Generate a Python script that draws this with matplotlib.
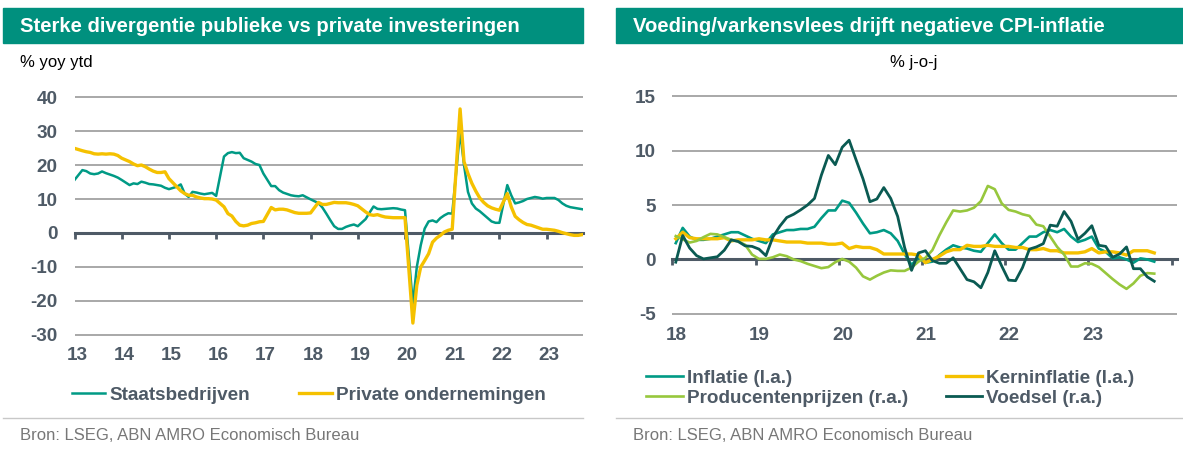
import matplotlib.pyplot as plt
import matplotlib.transforms as mtransforms
from matplotlib.patches import Rectangle
from matplotlib.lines import Line2D

plt.rcParams['font.family'] = ['Liberation Sans', 'DejaVu Sans']
plt.rcParams['axes.unicode_minus'] = False

# ---- left chart: fixed asset investment, % yoy ytd (Jan is missing, Jan-Feb combined)
left_periods = [(2012, 12)] + [(y, m) for y in range(2013, 2023) for m in range(2, 13)] \
    + [(2023, m) for m in range(2, 10)]

staatsbedrijven = [
    15.6,
    18.5, 18.2, 17.5, 17.3, 17.5, 18.1, 17.6, 17.2, 16.8, 16.3, 15.6,   # 2013
    14.1, 14.6, 14.4, 15.1, 14.8, 14.4, 14.3, 14.1, 13.9, 13.3, 12.9,   # 2014
    13.6, 14.3, 11.6, 10.6, 12.1, 11.9, 11.6, 11.4, 11.6, 11.8, 10.9,   # 2015
    22.5, 23.5, 23.8, 23.5, 23.6, 22.0, 21.5, 21.0, 20.3, 20.0, 17.5,   # 2016
    13.8, 13.8, 12.6, 11.9, 11.5, 11.1, 10.9, 10.8, 11.1, 10.5, 9.9,    # 2017
    8.8, 7.5, 5.7, 3.8, 2.0, 1.2, 1.2, 1.8, 2.2, 2.5, 2.0,              # 2018
    4.1, 6.0, 7.8, 7.1, 7.0, 7.1, 7.2, 7.3, 7.2, 6.9, 6.7,              # 2019
    -21.0, -10.0, -3.6, 1.3, 3.4, 3.7, 3.2, 4.4, 5.2, 5.8, 5.7,         # 2020
    29.9, 20.0, 12.1, 8.7, 7.2, 6.4, 5.4, 4.4, 3.4, 3.0, 3.0,           # 2021
    14.1, 11.1, 8.7, 9.0, 9.4, 10.0, 10.3, 10.6, 10.4, 10.1, 10.3,      # 2022
    10.3, 9.7, 8.7, 8.0, 7.6, 7.4, 7.2, 7.0,                            # 2023
]
private_ondernemingen = [
    24.9,
    24.2, 23.9, 23.7, 23.3, 23.2, 23.3, 23.2, 23.3, 23.2, 22.8, 22.0,   # 2013
    21.0, 20.3, 19.8, 20.0, 19.5, 18.8, 18.2, 17.8, 17.8, 18.0, 16.0,   # 2014
    13.6, 12.4, 11.6, 11.1, 11.1, 10.6, 10.3, 10.1, 10.1, 10.0, 9.7,    # 2015
    7.7, 5.7, 5.0, 3.4, 2.3, 2.1, 2.3, 2.8, 3.0, 3.3, 3.4,              # 2016
    7.5, 6.8, 7.0, 7.0, 6.8, 6.4, 6.0, 5.8, 5.8, 5.8, 5.9,              # 2017
    9.0, 8.4, 8.4, 8.7, 9.0, 8.9, 8.9, 8.9, 8.7, 8.4, 8.0,              # 2018
    6.2, 5.4, 5.2, 5.4, 5.0, 4.7, 4.6, 4.5, 4.5, 4.5, 4.5,              # 2019
    -26.5, -15.4, -10.0, -8.1, -6.1, -2.7, -1.5, -0.7, 0.3, 0.8, 1.1,   # 2020
    36.5, 21.0, 17.5, 14.6, 12.3, 10.3, 9.0, 8.0, 7.4, 7.0, 6.7,        # 2021
    11.6, 7.7, 4.9, 3.9, 3.1, 2.5, 2.3, 1.9, 1.5, 1.1, 1.1,             # 2022
    0.8, 0.5, 0.1, -0.2, -0.5, -0.7, -0.7, -0.5,                        # 2023
]
left_years = list(range(2013, 2024))

# ---- right chart: CPI, % j-o-j, Jan 2018 - Oct 2023
right_periods = [(y, m) for y in range(2018, 2024) for m in range(1, 13)][:70]

inflatie = [
    1.5, 2.9, 2.1, 1.8, 1.8, 1.9, 2.1, 2.3, 2.5, 2.5, 2.2, 1.9,
    1.7, 1.5, 2.3, 2.5, 2.7, 2.7, 2.8, 2.8, 3.0, 3.8, 4.5, 4.5,
    5.4, 5.2, 4.3, 3.3, 2.4, 2.5, 2.7, 2.4, 1.7, 0.5, -0.5, 0.2,
    -0.3, -0.2, 0.4, 0.9, 1.3, 1.1, 1.0, 0.8, 0.7, 1.5, 2.3, 1.5,
    0.9, 0.9, 1.5, 2.1, 2.1, 2.5, 2.7, 2.5, 2.8, 2.1, 1.6, 1.8,
    2.1, 1.0, 0.7, 0.1, 0.2, 0.0, -0.3, 0.1, 0.0, -0.2,
]
kerninflatie = [
    1.9, 2.5, 2.0, 1.9, 1.9, 1.9, 1.9, 2.0, 1.7, 1.8, 1.8, 1.8,
    1.9, 1.8, 1.8, 1.7, 1.6, 1.6, 1.6, 1.5, 1.5, 1.5, 1.4, 1.4,
    1.5, 1.0, 1.2, 1.1, 1.1, 0.9, 0.5, 0.5, 0.5, 0.5, 0.5, 0.4,
    -0.3, 0.0, 0.3, 0.7, 0.9, 0.9, 1.3, 1.2, 1.2, 1.3, 1.2, 1.2,
    1.2, 1.1, 1.1, 0.9, 0.9, 1.0, 0.8, 0.8, 0.6, 0.6, 0.6, 0.7,
    1.0, 0.6, 0.7, 0.7, 0.6, 0.4, 0.8, 0.8, 0.8, 0.6,
]
producentenprijzen = [
    4.3, 3.7, 3.1, 3.4, 4.1, 4.7, 4.6, 4.1, 3.6, 3.3, 2.7, 0.9,
    0.1, 0.1, 0.4, 0.9, 0.6, 0.0, -0.3, -0.8, -1.2, -1.6, -1.4, -0.5,
    0.1, -0.4, -1.5, -3.1, -3.7, -3.0, -2.4, -2.0, -2.1, -2.1, -1.5, -0.4,
    0.3, 1.7, 4.4, 6.8, 9.0, 8.8, 9.0, 9.5, 10.7, 13.5, 12.9, 10.3,
    9.1, 8.8, 8.3, 8.0, 6.4, 6.1, 4.2, 2.3, 0.9, -1.3, -1.3, -0.7,
    -0.8, -1.4, -2.5, -3.6, -4.6, -5.4, -4.4, -3.0, -2.5, -2.6,
]
voedsel = [
    -0.5, 4.4, 2.1, 0.7, 0.1, 0.3, 0.5, 1.7, 3.6, 3.3, 2.5, 2.4,
    1.9, 0.7, 4.1, 6.1, 7.7, 8.3, 9.1, 10.0, 11.2, 15.5, 19.1, 17.4,
    20.6, 21.9, 18.3, 14.8, 10.6, 11.1, 13.2, 11.2, 7.9, 2.2, -2.0, 1.2,
    1.6, -0.2, -0.7, -0.7, 0.3, -1.7, -3.7, -4.1, -5.2, -2.4, 1.6, -1.2,
    -3.8, -3.9, -1.5, 1.9, 2.3, 2.9, 6.3, 6.1, 8.8, 7.0, 3.7, 4.8,
    6.2, 2.6, 2.4, 0.4, 1.0, 2.3, -1.7, -1.7, -3.2, -4.0,
]
right_years = list(range(2018, 2025))

# colours
HEADER = '#00907E'
TEAL = '#009A85'
YELLOW = '#F5C100'
LIGHTGREEN = '#97C73D'
DARKGREEN = '#0A5A52'
SLATE = '#4E5A66'
GRID = '#9A9A9A'

W, H = 1183, 454
fig = plt.figure(figsize=(W / 100, H / 100), dpi=100)


def fx(px):
    return px / W


def fy(py):
    return 1 - py / H


def panel_axes(x0, x1, y_top, y_bot):
    return fig.add_axes([fx(x0), fy(y_bot), (x1 - x0) / W, (y_bot - y_top) / H])


def style_axes(ax, yticks, years, xlab_offset):
    for s in ['top', 'left', 'right']:
        ax.spines[s].set_visible(False)
    ax.spines['bottom'].set_position(('data', 0))
    ax.spines['bottom'].set_color(SLATE)
    ax.spines['bottom'].set_linewidth(2.2)
    ax.spines['bottom'].set_zorder(2.6)
    ax.set_xticks(years)
    ax.tick_params(axis='x', direction='out', length=4, width=2, color=SLATE, labelbottom=False)
    ax.set_yticks(yticks)
    ax.tick_params(axis='y', length=0, pad=12, labelsize=13.6, labelcolor=SLATE)
    for t in ax.get_yticklabels():
        t.set_fontweight('bold')
    ax.grid(axis='y', color=GRID, lw=1.2)
    ax.set_axisbelow(True)
    trans = mtransforms.blended_transform_factory(ax.transData, ax.transAxes)
    for yr in years:
        if yr < years[-1] or len(years) == 11:
            ax.text(yr + 0.05, xlab_offset, f'{yr % 100}', transform=trans, ha='center',
                    va='center', fontsize=13.6, fontweight='bold', color=SLATE)


# ---- left panel
ax1 = panel_axes(74.5, 583, 96, 336)
xl = [y + m / 12 for y, m in left_periods]
ax1.plot(xl, staatsbedrijven, color=TEAL, lw=1.8, label='Staatsbedrijven', zorder=3)
ax1.plot(xl, private_ondernemingen, color=YELLOW, lw=2.4, label='Private ondernemingen', zorder=3)
ax1.set_xlim(2013.0, 2023.77)
ax1.set_ylim(-30.3, 40.3)
style_axes(ax1, range(-30, 41, 10), left_years, -19 / 240)

fig.legend(*ax1.get_legend_handles_labels(), loc='center', bbox_to_anchor=(fx(309), fy(395)),
           ncol=2, frameon=False, prop={'weight': 'bold', 'size': 13.6}, labelcolor=SLATE,
           handlelength=1.75, handletextpad=0.2, columnspacing=2.6, borderpad=0, borderaxespad=0)

# ---- right panel
ax2 = panel_axes(672.3, 1177, 95, 315)
ax2r = ax2.twinx()
xr = [y + (m - 0.5) / 12 for y, m in right_periods]
l1, = ax2.plot(xr, inflatie, color=TEAL, lw=1.9, label='Inflatie (l.a.)', zorder=3)
l2, = ax2.plot(xr, kerninflatie, color=YELLOW, lw=2.4, label='Kerninflatie (l.a.)', zorder=3)
l3, = ax2r.plot(xr, producentenprijzen, color=LIGHTGREEN, lw=1.9, label='Producentenprijzen (r.a.)', zorder=3)
l4, = ax2r.plot(xr, voedsel, color=DARKGREEN, lw=2.0, label='Voedsel (r.a.)', zorder=3)
ax2.set_xlim(2018.0, 2024.065)
ax2.set_ylim(-5.1, 15.1)
ax2r.set_ylim(-10.2, 30.2)
ax2r.set_yticks([])
for s in ax2r.spines.values():
    s.set_visible(False)
style_axes(ax2, range(-5, 16, 5), right_years, -21 / 220)

handles = [l1, l3, l2, l4]
fig.legend(handles, [h.get_label() for h in handles], loc='center left',
           bbox_to_anchor=(fx(646), fy(388)), ncol=2, frameon=False,
           prop={'weight': 'bold', 'size': 13.6}, labelcolor=SLATE,
           handlelength=1.95, handletextpad=0.2, columnspacing=2.0, labelspacing=0.15,
           borderpad=0, borderaxespad=0)

# ---- headers, subtitles, source lines
for x0, x1, title in [(3, 583, 'Sterke divergentie publieke vs private investeringen'),
                      (616, 1183, 'Voeding/varkensvlees drijft negatieve CPI-inflatie')]:
    fig.add_artist(Rectangle((fx(x0), fy(43)), (x1 - x0) / W, 35 / H,
                             transform=fig.transFigure, color=HEADER, zorder=0))
    fig.text(fx(x0 + 17), fy(26.5), title, color='white', fontweight='bold',
             fontsize=14.6, va='center')
    fig.add_artist(Line2D([fx(x0), fx(x1)], [fy(418), fy(418)], color='#C8C8C8', lw=1))
    fig.text(fx(x0 + 17), fy(436), 'Bron: LSEG, ABN AMRO Economisch Bureau',
             color='#777777', fontsize=12, va='center')

fig.text(fx(20), fy(62), '% yoy ytd', color='black', fontsize=12, va='center')
fig.text(fx(914), fy(62), '% j-o-j', color='black', fontsize=12, va='center', ha='center')

fig.savefig('out.png', dpi=100)
